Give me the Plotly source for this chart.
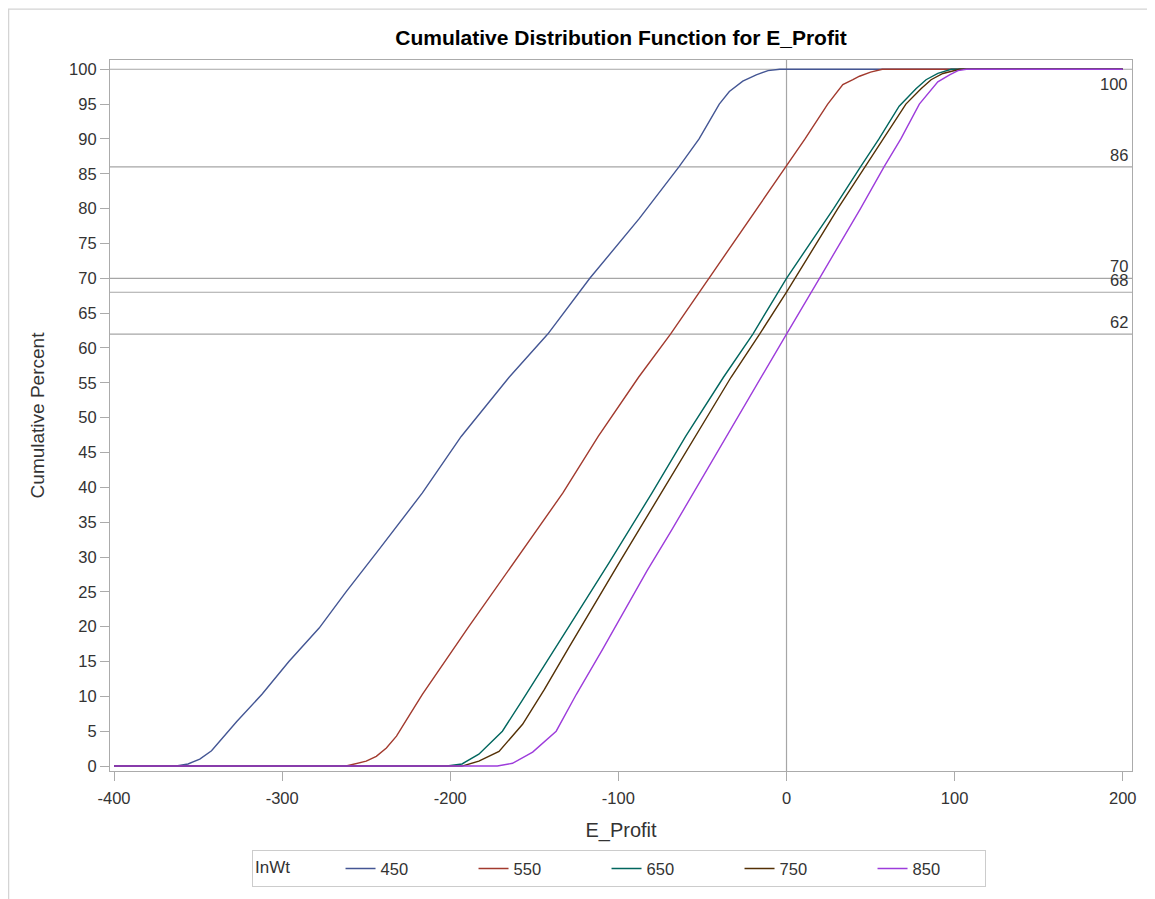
import plotly.graph_objects as go

# ---------------- data ----------------
groups = ["450", "550", "650", "750", "850"]
colors = ["#445694", "#A23A2E", "#01665E", "#543005", "#9D3CDB"]

x_450 = [-400, -363, -356, -349, -342, -327, -312, -296, -278, -262, -242, -216.6, -193.5, -165,
         -142, -123, -117, -87.5, -64, -52, -40, -34, -26, -18, -11, -4, 200]
y_450 = [0, 0, 0.3, 1.0, 2.2, 6.4, 10.3, 15, 19.8, 25, 31.2, 39.2, 47.3, 55.8,
         62, 68, 70, 78.6, 86, 90, 95, 96.8, 98.3, 99.2, 99.8, 100, 100]

x_550 = [-400, -262, -250, -244, -238, -232, -224, -216.6, -189, -162, -133, -112, -88,
         -69, -46, -16, 0, 11, 24.5, 33.5, 39.5, 43.4, 50, 57, 200]
y_550 = [0, 0, 0.7, 1.4, 2.6, 4.3, 7.4, 10.3, 20, 29.2, 39.2, 47.3, 55.8,
         62, 70, 80.5, 86, 90, 95, 97.8, 98.5, 99.0, 99.6, 100, 100]

x_650 = [-400, -202, -193, -183, -169, -157, -129, -105.5, -80, -60, -37.5, -20, 0,
         28, 44, 55, 67, 77, 83, 90, 98, 200]
y_650 = [0, 0, 0.3, 1.7, 5, 9.5, 20.2, 29.2, 39.2, 47.3, 55.8, 62, 70,
         80, 86, 90, 94.7, 97.2, 98.5, 99.4, 100, 100]

x_750 = [-400, -193, -183, -171, -157, -144, -129.5, -115, -99.5, -74.5, -54.5, -33, -16,
         0, 30.5, 46.5, 57.5, 71, 80, 86, 93, 103, 200]
y_750 = [0, 0, 0.7, 2.1, 6, 11, 17, 23, 29.2, 39.2, 47.3, 55.8, 62,
         68, 80, 86, 90, 95, 97.2, 98.5, 99.4, 100, 100]

x_850 = [-400, -172, -163, -151, -137, -125, -109.5, -97, -83, -68, -53.5, -36, -17, 0,
         19.6, 44, 58, 68, 79, 84, 90, 97, 102, 107, 200]
y_850 = [0, 0, 0.4, 2, 5, 10.3, 16.7, 22, 28, 34, 40, 47.3, 55, 62,
         70, 80, 86, 90, 95, 96.5, 98.2, 99.2, 99.8, 100, 100]

series_x = [x_450, x_550, x_650, x_750, x_850]
series_y = [y_450, y_550, y_650, y_750, y_850]

ref_percents = [100, 86, 70, 68, 62]
ref_profit = 0

x_ticks = [-400, -300, -200, -100, 0, 100, 200]
x_tick_labels = ["-400", "-300", "-200", "-100", "0", "100", "200"]
y_ticks = list(range(0, 101, 5))

# ---------------- figure ----------------
FONT = "Liberation Sans, Arial, sans-serif"
AXIS_GRAY = "#ABABAB"
REF_GRAY = "#A6A6A6"
TXT = "#333333"

W, H = 1147, 891          # page body offsets the graph by 8 px
ML, MR, MT, MB = 102, 23, 52, 122
PW = W - ML - MR
PH = H - MT - MB

fig = go.Figure()
legend_widths = [88, 88, 88, 88, 67]
for name, col, xs, ys, lw in zip(groups, colors, series_x, series_y, legend_widths):
    fig.add_trace(go.Scatter(x=xs, y=ys, mode="lines", name=name, legendwidth=lw,
                             line=dict(color=col, width=1.4), hoverinfo="x+y+name"))

# reference lines and their labels
for v in ref_percents:
    fig.add_hline(y=v, line=dict(color=REF_GRAY, width=1.2), layer="below")
    top = v == max(ref_percents)
    fig.add_annotation(x=1, xref="paper", y=v, yref="y", text=str(v), showarrow=False,
                       xanchor="right", yanchor="top" if top else "bottom",
                       xshift=-2, yshift=-3.5 if top else 1,
                       font=dict(family=FONT, size=16.5, color=TXT))
fig.add_vline(x=ref_profit, line=dict(color=REF_GRAY, width=1.2), layer="below")

# outer border of the graph
fig.add_shape(type="rect", xref="paper", yref="paper",
              x0=(0.6 - ML) / PW, x1=(W + 20 - ML) / PW,
              y0=-(MB + 20) / PH, y1=(PH + MT - 0.6) / PH,
              line=dict(color="#D4D4D4", width=1.3), fillcolor="rgba(0,0,0,0)", layer="below")

fig.update_layout(
    width=W, height=H,
    margin=dict(l=ML, r=MR, t=MT, b=MB),
    paper_bgcolor="white", plot_bgcolor="white",
    font=dict(family=FONT, size=16.5, color=TXT),
    title=dict(text="Cumulative Distribution Function for E_Profit",
               x=0.5, xref="paper", xanchor="center",
               y=1 - 29.5 / H, yref="container", yanchor="middle",
               font=dict(family=FONT, size=21, color="#000000", weight="bold")),
    xaxis=dict(range=[-402.4, 205.5], tickvals=x_ticks, ticktext=x_tick_labels,
               ticks="outside", ticklen=9, ticklabelstandoff=3,
               tickcolor=AXIS_GRAY, showline=True, mirror=True, linecolor=AXIS_GRAY,
               linewidth=1.2, showgrid=False, zeroline=False,
               tickfont=dict(size=16.5, color=TXT),
               title=dict(text="E_Profit", font=dict(size=20, color=TXT), standoff=17)),
    yaxis=dict(range=[-0.71, 101.33], tickvals=y_ticks, ticks="outside", ticklen=9,
               tickcolor=AXIS_GRAY, showline=True, mirror=True, linecolor=AXIS_GRAY,
               linewidth=1.2, showgrid=False, zeroline=False,
               tickfont=dict(size=16.5, color=TXT),
               title=dict(text="Cumulative Percent", font=dict(size=19, color=TXT), standoff=19)),
    legend=dict(orientation="h", x=0.139, xanchor="left", y=-0.1116, yanchor="top",
                title=dict(text="InWt" + "\u00a0" * 9, side="left", font=dict(size=17, color=TXT)),
                bordercolor="#CCCCCC", borderwidth=1, bgcolor="white",
                font=dict(size=16.5, color=TXT), traceorder="normal"),
    showlegend=True,
)

fig.write_html("out.html")
